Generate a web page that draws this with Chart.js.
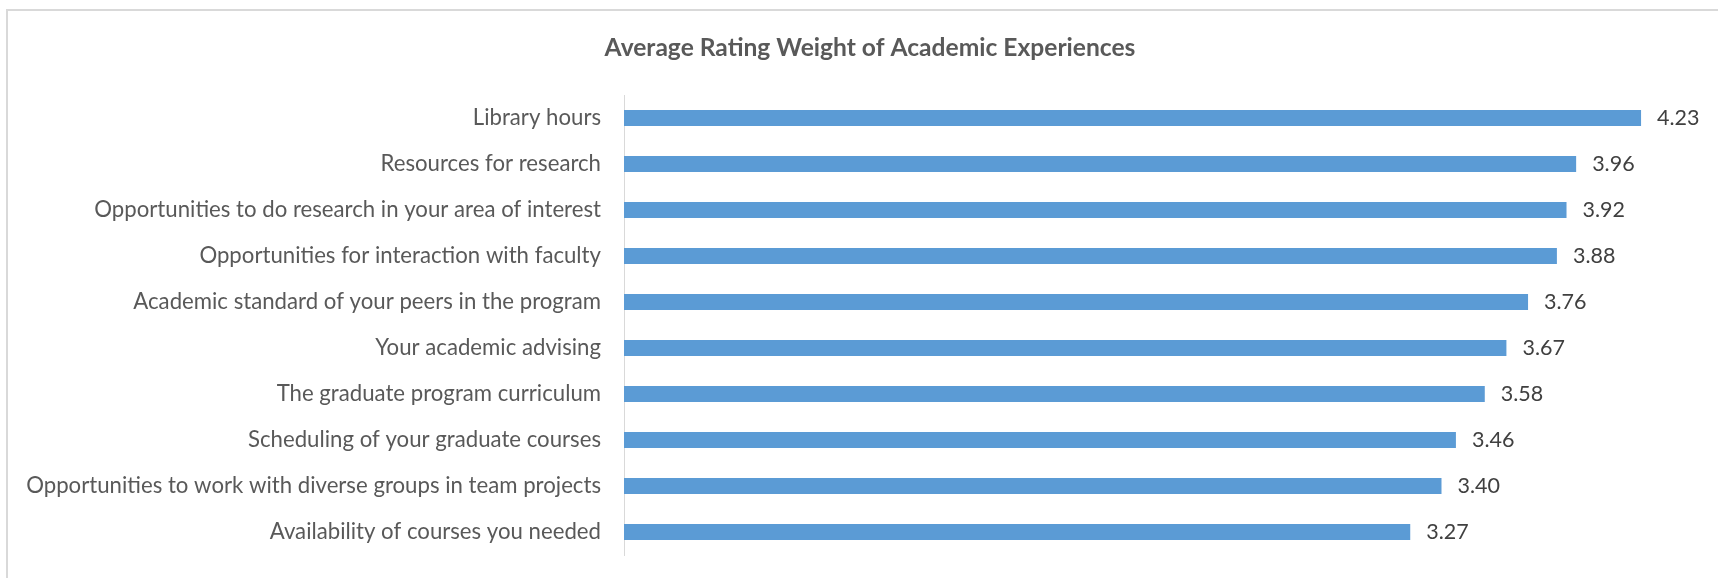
<!DOCTYPE html>
<html>
<head>
<meta charset="utf-8">
<script src="https://cdn.jsdelivr.net/npm/chart.js@4"></script>
<style>
html,body{margin:0;padding:0;background:#fff;}
</style>
</head>
<body>
<canvas id="c" width="1718" height="578"></canvas>
<script>
const categories = [
  "Library hours",
  "Resources for research",
  "Opportunities to do research in your area of interest",
  "Opportunities for interaction with faculty",
  "Academic standard of your peers in the program",
  "Your academic advising",
  "The graduate program curriculum",
  "Scheduling of your graduate courses",
  "Opportunities to work with diverse groups in team projects",
  "Availability of courses you needed"
];
const ratings = [4.23, 3.96, 3.92, 3.88, 3.76, 3.67, 3.58, 3.46, 3.40, 3.27];
const chartTitle = "Average Rating Weight of Academic Experiences";
const axisMin = 0;
const axisMax = 4.55;

const frame = {
  id: 'frame',
  beforeDraw(chart) {
    const ctx = chart.ctx;
    ctx.save();
    ctx.fillStyle = '#ffffff';
    ctx.fillRect(0, 0, chart.width, chart.height);
    ctx.strokeStyle = '#D9D9D9';
    ctx.lineWidth = 2;
    ctx.strokeRect(7, 10, chart.width + 20, chart.height + 20);
    ctx.restore();
  }
};

const valueLabels = {
  id: 'valueLabels',
  afterDatasetsDraw(chart) {
    const ctx = chart.ctx;
    const meta = chart.getDatasetMeta(0);
    ctx.save();
    ctx.font = '21.5px Lato';
    ctx.fillStyle = '#404040';
    ctx.textAlign = 'left';
    ctx.textBaseline = 'middle';
    meta.data.forEach((bar, i) => {
      ctx.fillText(ratings[i].toFixed(2), bar.x + 16, bar.y + 0.5);
    });
    ctx.restore();
  }
};

new Chart(document.getElementById('c'), {
  type: 'bar',
  data: {
    labels: categories,
    datasets: [{
      data: ratings,
      backgroundColor: '#5B9BD5',
      borderWidth: 0,
      categoryPercentage: 1,
      barPercentage: 0.35
    }]
  },
  options: {
    indexAxis: 'y',
    responsive: false,
    animation: false,
    devicePixelRatio: 1,
    layout: { padding: { left: 0, right: -22, top: 0, bottom: 23 } },
    plugins: {
      legend: { display: false },
      tooltip: { enabled: false },
      title: {
        display: true,
        text: chartTitle,
        color: '#595959',
        font: { family: 'Lato', size: 24.6, weight: 'bold', lineHeight: 1.2 },
        padding: { top: 33.2, bottom: 32.3 }
      }
    },
    scales: {
      x: {
        display: false,
        min: axisMin,
        max: axisMax
      },
      y: {
        afterFit(scale) { scale.width = 624; },
        grid: { display: true, drawOnChartArea: false, drawTicks: true, tickLength: 23, tickColor: 'rgba(0,0,0,0)' },
        border: { display: true, color: '#D9D9D9', width: 1 },
        ticks: {
          color: '#595959',
          padding: 0,
          font: { family: 'Lato', size: 22.2 }
        }
      }
    }
  },
  plugins: [frame, valueLabels]
});
</script>
</body>
</html>
